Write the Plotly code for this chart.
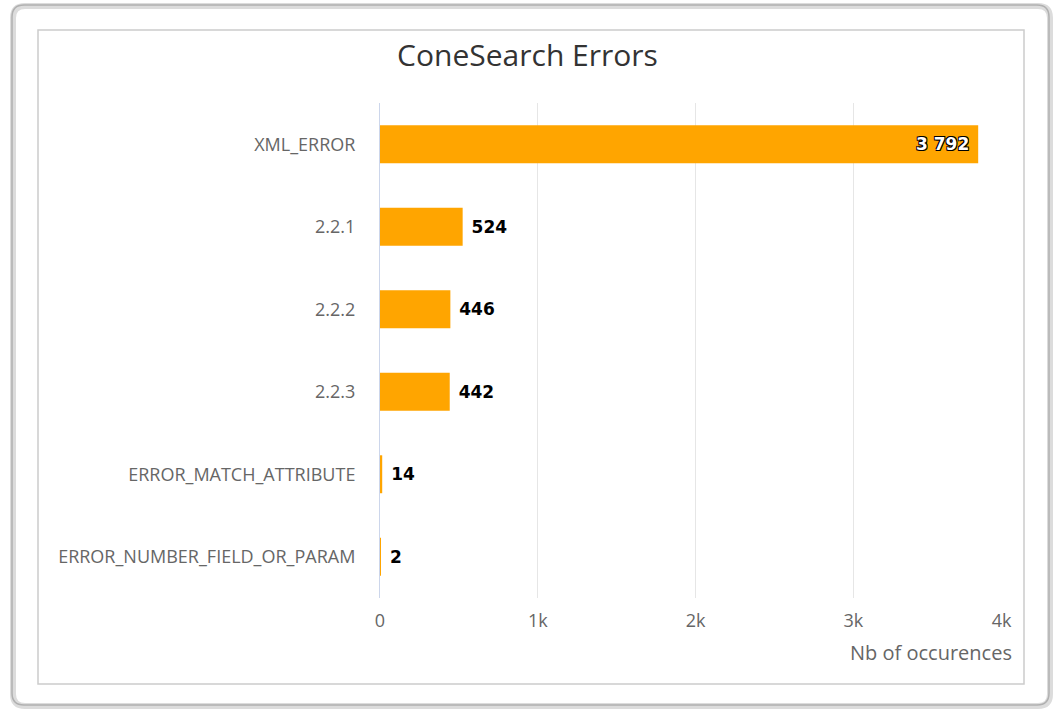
import plotly.graph_objects as go

categories = [
    "XML_ERROR",
    "2.2.1",
    "2.2.2",
    "2.2.3",
    "ERROR_MATCH_ATTRIBUTE",
    "ERROR_NUMBER_FIELD_OR_PARAM",
]
occurrences = [3792, 524, 446, 442, 14, 2]
x_ticks = [0, 1000, 2000, 3000, 4000]
x_tick_labels = ["0", "1k", "2k", "3k", "4k"]

FONT = "Open Sans, Noto Sans, sans-serif"
LABEL_FONT = "DejaVu Sans, sans-serif"
W, H = 1055, 709
L, R, T, B = 380, 44, 103, 111
pw, ph = W - L - R, H - T - B
NBSP = "\u00a0"


def px(x):
    return (x - L) / pw


def py(y):
    return (H - B - y) / ph


def rounded_rect(x0, y0, x1, y1, r):
    # path in paper coords built from pixel values
    rx, ry = r / pw, r / ph
    a, b, c, d = px(x0), py(y0), px(x1), py(y1)
    return (
        f"M {a + rx},{b} L {c - rx},{b} Q {c},{b} {c},{b - ry} "
        f"L {c},{d + ry} Q {c},{d} {c - rx},{d} L {a + rx},{d} "
        f"Q {a},{d} {a},{d + ry} L {a},{b - ry} Q {a},{b} {a + rx},{b} Z"
    )


labels = [f"{v:,}".replace(",", " ") for v in occurrences]
positions = ["inside" if v > 1000 else "outside" for v in occurrences]
texts = [t + NBSP if p == "inside" else NBSP + t for t, p in zip(labels, positions)]

# highcharts pulls the last tick label inside the plot area
tick_text = list(x_tick_labels)
tick_text[-1] = tick_text[-1] + NBSP * 4

fig = go.Figure()
fig.add_bar(
    y=categories,
    x=occurrences,
    orientation="h",
    marker=dict(color="#FFA500", line=dict(width=0)),
    text=texts,
    textposition=positions,
    insidetextanchor="end",
    insidetextfont=dict(
        family=LABEL_FONT, size=17, color="white", weight="bold",
        shadow="-1px -1px 0 #000, 1px -1px 0 #000, -1px 1px 0 #000, 1px 1px 0 #000",
    ),
    outsidetextfont=dict(family=LABEL_FONT, size=17, color="black", weight="bold"),
    cliponaxis=False,
    hoverinfo="x+y",
)

fig.update_layout(
    width=W,
    height=H,
    margin=dict(l=L, r=R, t=T, b=B),
    paper_bgcolor="white",
    plot_bgcolor="white",
    bargap=0.54,
    showlegend=False,
    font=dict(family=FONT, color="#666666", size=18),
    title=dict(
        text="ConeSearch Errors",
        x=0.5,
        xanchor="center",
        y=1 - 55 / H,
        yanchor="middle",
        font=dict(family=FONT, size=30, color="#333333"),
    ),
    xaxis=dict(
        range=[0, 4000],
        tickvals=x_ticks,
        ticktext=tick_text,
        showgrid=True,
        gridcolor="#e6e6e6",
        gridwidth=1,
        zeroline=False,
        showline=False,
        ticks="",
        ticklabelstandoff=10,
        tickfont=dict(size=18, color="#666666"),
    ),
    yaxis=dict(
        autorange="reversed",
        showgrid=False,
        zeroline=False,
        showline=True,
        linecolor="#ccd6eb",
        linewidth=1,
        ticks="",
        ticklabelstandoff=20,
        tickfont=dict(size=18, color="#666666"),
    ),
    shapes=[
        # outer frame with a soft shadow
        dict(type="path", xref="paper", yref="paper",
             path=rounded_rect(13, 6, 1050, 706, 12),
             line=dict(color="#dcdcdc", width=6), layer="below"),
        dict(type="path", xref="paper", yref="paper",
             path=rounded_rect(12, 5, 1049, 705, 12),
             line=dict(color="#b0b0b0", width=1.5), layer="below"),
        # inner chart border
        dict(type="rect", xref="paper", yref="paper",
             x0=px(38), x1=px(1024), y0=py(684), y1=py(30),
             line=dict(color="#cccccc", width=1.5), layer="below"),
    ],
    annotations=[
        dict(text="Nb of occurences", xref="paper", yref="paper",
             x=1, y=py(652), xanchor="right", yanchor="middle", xshift=3,
             showarrow=False, font=dict(family=FONT, size=20, color="#666666")),
    ],
)

fig.write_html(
    "out.html",
    config={"displayModeBar": False},
    post_script="document.body.style.margin='0';",
)
